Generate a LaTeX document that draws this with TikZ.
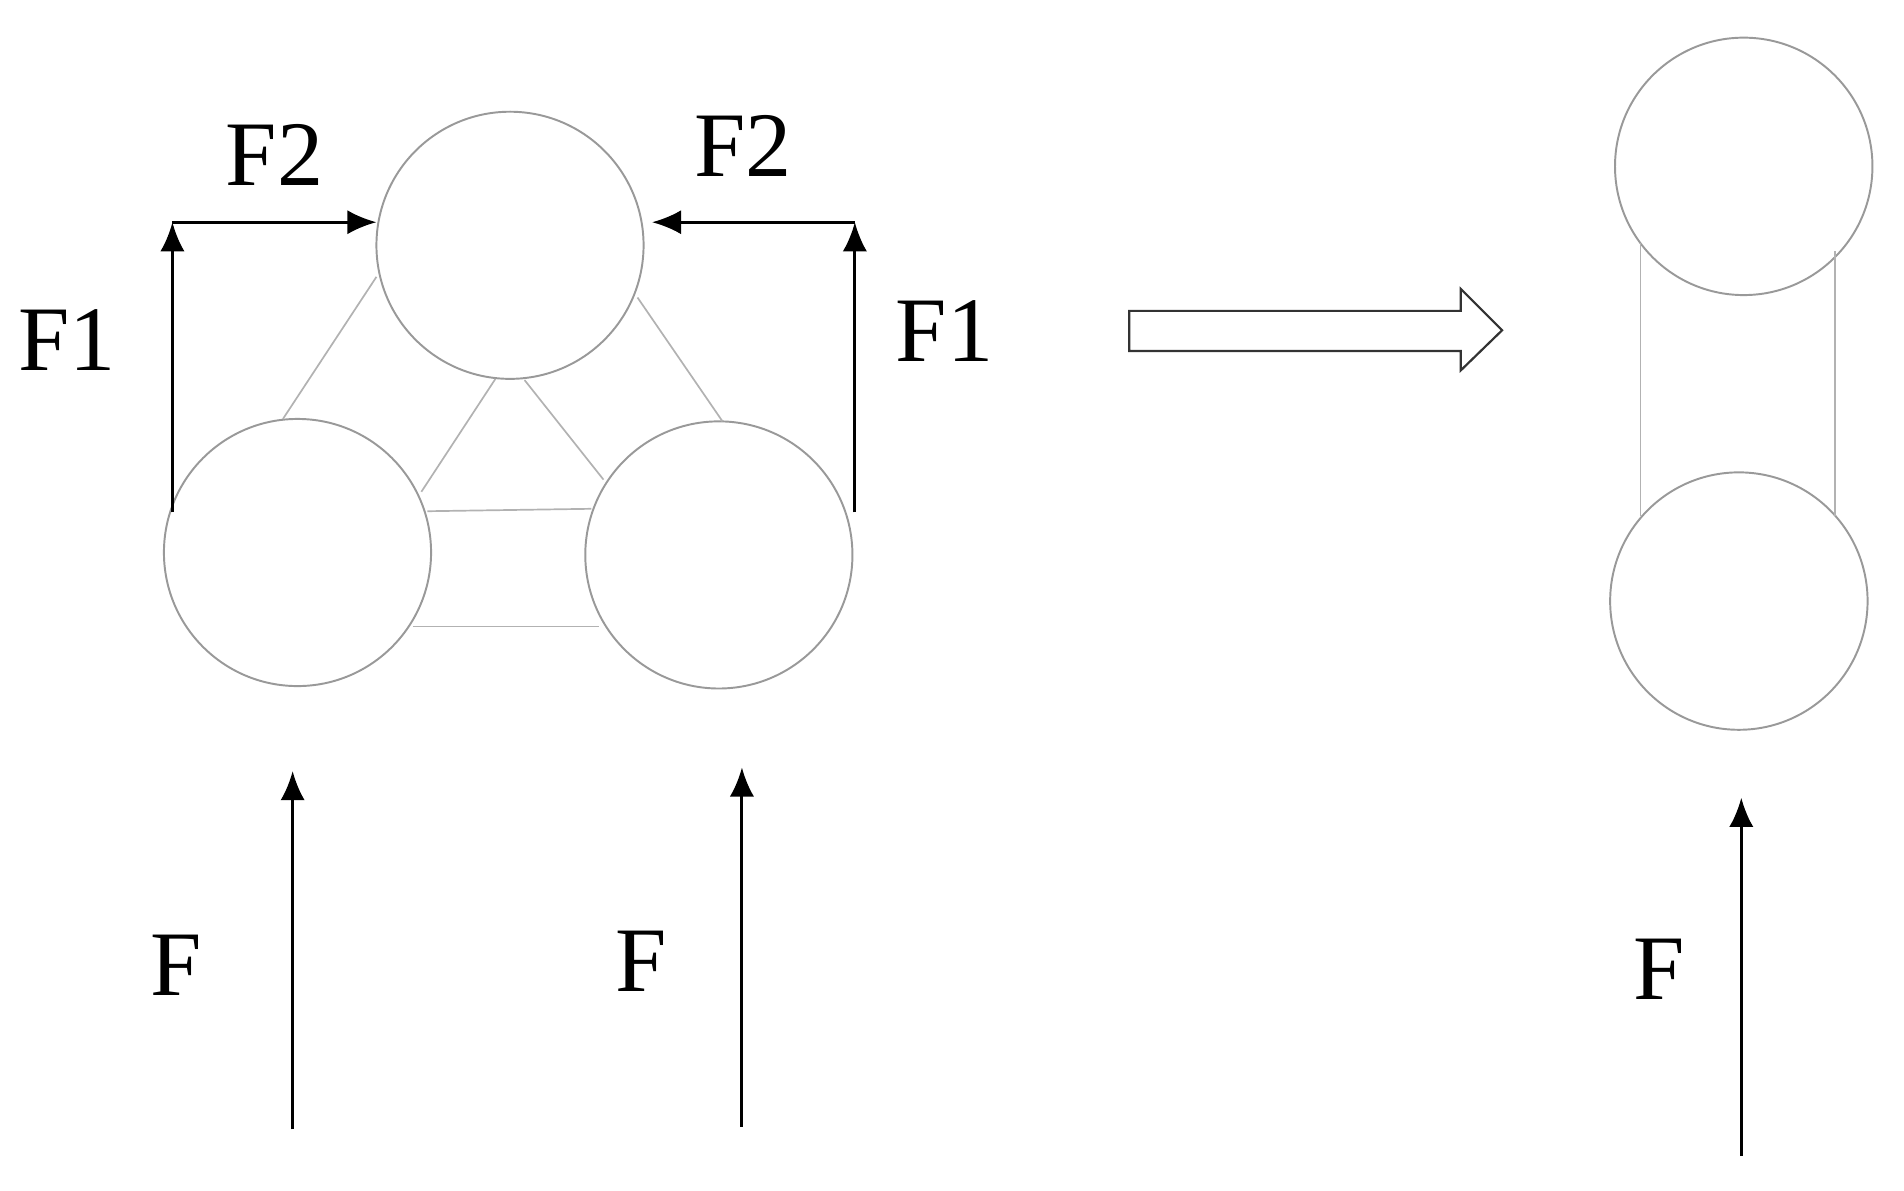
\documentclass[tikz,border=0pt]{standalone}
\usepackage{fontspec}
\setmainfont{Liberation Serif}
\usetikzlibrary{arrows.meta}
\begin{document}
\begin{tikzpicture}[x=0.5pt,y=-0.5pt,
 ball/.style={circle,draw=gray!80,line width=0.8pt,minimum size=110pt,inner sep=0pt},
 link/.style={draw=gray!60,line width=0.7pt},
 force/.style={line width=1.2pt,-{Latex[length=12pt,width=10pt]}},
 lbl/.style={font=\fontsize{38}{40}\selectfont,inner sep=0pt}]
\useasboundingbox (0,0) rectangle (1568,980);
\node[ball] (t) at (420,202) {};
\node[ball] (bl) at (245,455) {};
\node[ball] (br) at (592,457) {};
\node[ball,minimum size=106pt] (rt) at (1436,137) {};
\node[ball,minimum size=106pt] (rb) at (1432,495) {};
\coordinate (a1) at (310,228); \coordinate (a2) at (233,345);
\coordinate (b1) at (525,245); \coordinate (b2) at (595,347);
\coordinate (c1) at (408,312); \coordinate (c2) at (347,405);
\coordinate (d1) at (432,313); \coordinate (d2) at (497,395);
\coordinate (e1) at (352,421); \coordinate (e2) at (487,419);
\coordinate (f1) at (340,516); \coordinate (f2) at (493,516);
\coordinate (g1) at (1351,200); \coordinate (g2) at (1351,425);
\coordinate (h1) at (1511,207); \coordinate (h2) at (1511,425);
\foreach \p in {a,b,c,d,e,f,g,h} \draw[link] (\p1) -- (\p2);
\coordinate (L0) at (142,422); \coordinate (L1) at (142,183); \coordinate (L2) at (310,183);
\coordinate (R0) at (704,422); \coordinate (R1) at (704,183); \coordinate (R2) at (537,183);
\draw[force] (L0) -- (L1);
\draw[force] (L1) -- (L2);
\draw[force] (R0) -- (R1);
\draw[force] (R1) -- (R2);
\coordinate (p0) at (241,930); \coordinate (p1) at (241,635);
\coordinate (q0) at (611,928); \coordinate (q1) at (611,632);
\coordinate (s0) at (1434,952); \coordinate (s1) at (1434,657);
\draw[force] (p0) -- (p1);
\draw[force] (q0) -- (q1);
\draw[force] (s0) -- (s1);
\node[lbl] (lf2) at (226,128) {F2};
\node[lbl] (rf2) at (612,120) {F2};
\node[lbl] (lf1) at (55,280) {F1};
\node[lbl] (rf1) at (778,273) {F1};
\node[lbl] (fa) at (145,795) {F};
\node[lbl] (fb) at (528,792) {F};
\node[lbl] (fc) at (1366,798) {F};
\draw[line width=0.9pt,draw=black!80,line join=miter] (930,256) -- (1203,256) -- (1203,238) -- (1237,272) -- (1203,305) -- (1203,289) -- (930,289) -- cycle;
\end{tikzpicture}
\end{document}
